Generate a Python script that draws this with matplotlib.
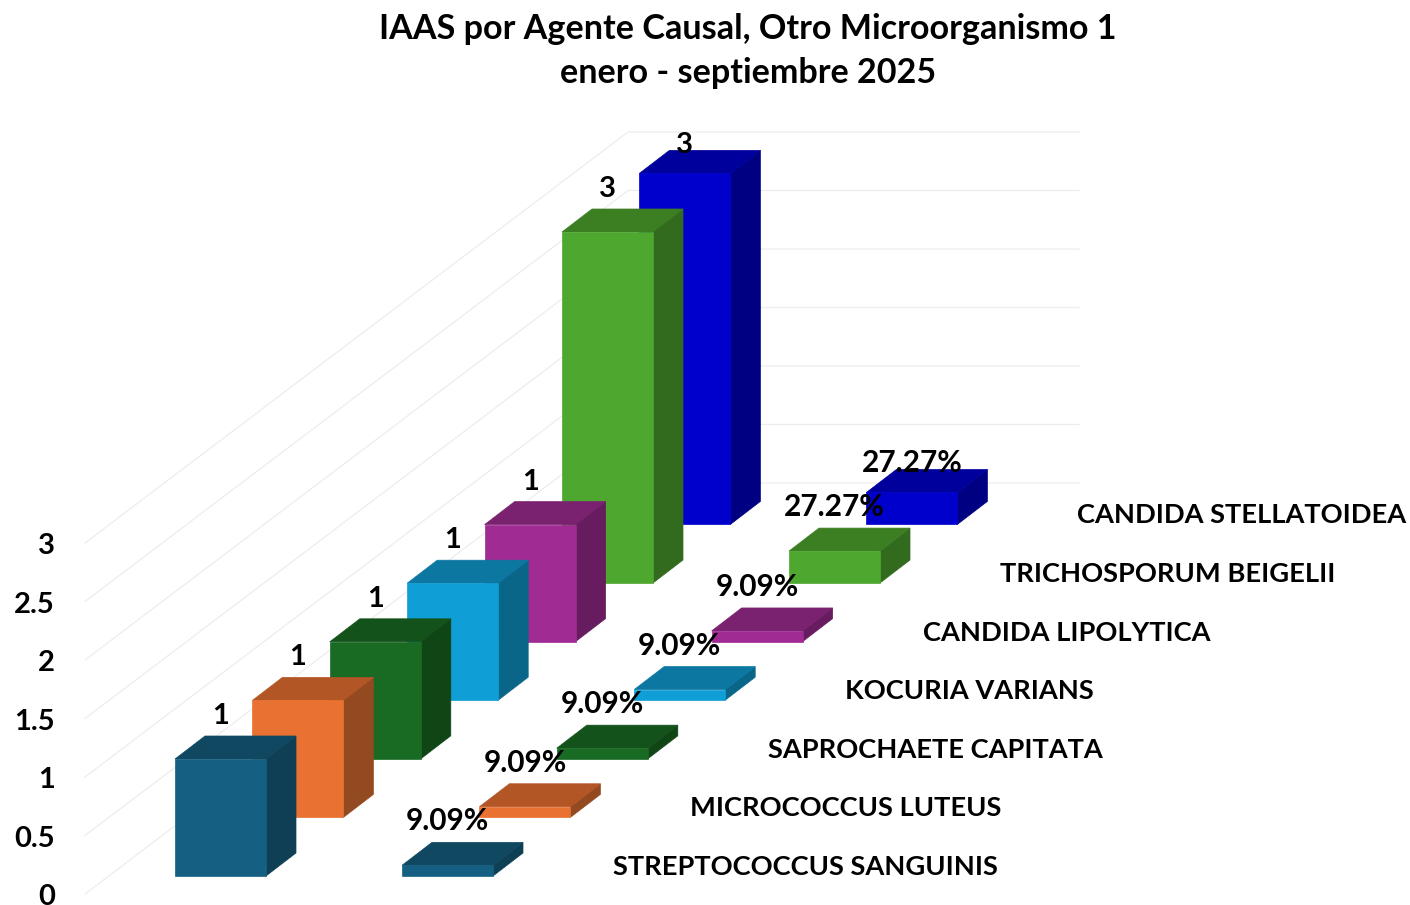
import matplotlib
matplotlib.use("Agg")
import matplotlib.pyplot as plt
from matplotlib.patches import Polygon

plt.rcParams['font.family'] = ['Lato', 'DejaVu Sans']

organisms = ["STREPTOCOCCUS SANGUINIS", "MICROCOCCUS LUTEUS", "SAPROCHAETE CAPITATA", "KOCURIA VARIANS",
             "CANDIDA LIPOLYTICA", "TRICHOSPORUM BEIGELII", "CANDIDA STELLATOIDEA"]
counts = [1, 1, 1, 1, 1, 3, 3]
percents = [9.09, 9.09, 9.09, 9.09, 9.09, 27.27, 27.27]
yticks = [0, 0.5, 1, 1.5, 2, 2.5, 3]
front_colors = ["#156082", "#E97132", "#196B24", "#0F9ED5", "#A02B93", "#4EA72E", "#0000CD"]
top_colors = ["#104862", "#B35626", "#14521B", "#0C78A2", "#7A2170", "#3C7F23", "#00009C"]
side_colors = ["#0E3F55", "#944A20", "#104516", "#0A6689", "#661C5E", "#326B1E", "#000083"]

# projection, in pixels of the 1410x905 picture
x0, y0 = 175, 876      # front left foot of first bar
step_x, step_y = 77.4, -58.6   # one series further back
cat_x = 227            # count bars -> percent bars
bar_w = 91
dep_x, dep_y = 30, -23  # bar depth
unit = 117             # px for 1.0 on value axis

fig = plt.figure(figsize=(14.1, 9.05), dpi=100)
ax = fig.add_axes([0, 0, 1, 1])
ax.set_xlim(0, 1410)
ax.set_ylim(905, 0)
ax.axis("off")


def draw_bar(left, base, value, i):
    top = base - value * unit
    right = left + bar_w
    ax.add_patch(Polygon([(right, base), (right + dep_x, base + dep_y), (right + dep_x, top + dep_y), (right, top)],
                         fc=side_colors[i], ec=side_colors[i], lw=0.5))
    ax.add_patch(Polygon([(left, top), (left + dep_x, top + dep_y), (right + dep_x, top + dep_y), (right, top)],
                         fc=top_colors[i], ec=top_colors[i], lw=0.5))
    ax.add_patch(Polygon([(left, base), (right, base), (right, top), (left, top)],
                         fc=front_colors[i], ec=front_colors[i], lw=0.5))


# walls
for v in yticks:
    y = 894 - v * unit
    ax.plot([85, 628, 1079], [y, y - 411, y - 411], color="#EDEDED", lw=0.9, zorder=0)
    ax.text(55, y + 3, f"{v:g}", ha="right", va="center", fontsize=21, fontweight="bold", color="black")

# back to front so nearer bars cover the others
for i in reversed(range(len(counts))):
    left = x0 + i * step_x
    base = y0 + i * step_y
    draw_bar(left, base, counts[i], i)
    draw_bar(left + cat_x, base, percents[i] / 100, i)

for i in range(len(counts)):
    left = x0 + i * step_x
    base = y0 + i * step_y
    lift = 28 if i == 6 else 43  # last labels sit lower in the original
    ax.text(left + bar_w / 2, base - counts[i] * unit - lift, str(counts[i]), ha="center", va="center",
            fontsize=21, fontweight="bold", color="black")
    ax.text(left + cat_x + bar_w / 2, base - percents[i] / 100 * unit - lift - 1, f"{percents[i]:.2f}%", ha="center",
            va="center", fontsize=21.5, fontweight="bold", color="black")
    ax.text(left + 438, base - 9, organisms[i], ha="left", va="center", fontsize=19.6, fontweight="bold",
            color="black")

ax.text(748, 29, "IAAS por Agente Causal, Otro Microorganismo 1", ha="center", va="center", fontsize=24.6,
        fontweight="bold", color="black")
ax.text(748, 73, "enero - septiembre 2025", ha="center", va="center", fontsize=24.6, fontweight="bold",
        color="black")

fig.savefig("out.png", dpi=100)
